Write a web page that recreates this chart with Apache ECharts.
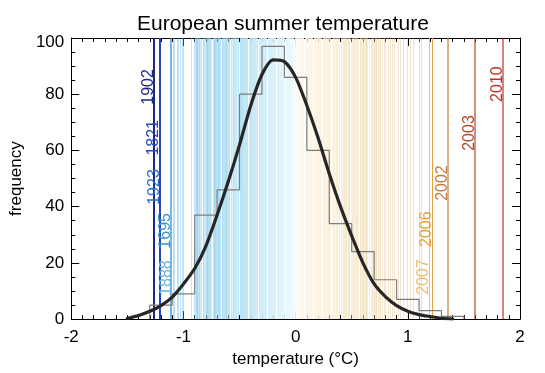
<!DOCTYPE html>
<html><head><meta charset="utf-8">
<script src="https://cdn.jsdelivr.net/npm/echarts@6/dist/echarts.min.js"></script>
<style>html,body{margin:0;padding:0;background:#fff}#c{width:545px;height:373px}</style>
</head><body><div id="c"></div>
<script>
// ---------- DATA ----------
const binEdges  = [-1.3,-1.1,-0.9,-0.7,-0.5,-0.3,-0.1,0.1,0.3,0.5,0.7,0.9,1.1,1.3,1.5];
const binCounts = [5,9,37,46,80,97,86,60,34,24,14,7,3,1];

const fitX = [-1.5,-1.4,-1.3,-1.2,-1.1,-1.0,-0.9,-0.8,-0.7,-0.6,-0.5,-0.4,-0.3,-0.2,-0.1,0.0,0.1,0.2,0.3,0.4,0.5,0.6,0.7,0.8,0.9,1.0,1.1,1.2,1.3,1.4];
const fitY = [0.3,1.3,2.8,4.8,7.8,12.5,18,26,37,49,62,76,87,92.2,91.6,86,76,64.5,51.7,40,29.6,20,12.5,8,4.8,2.8,1.6,0.9,0.3,0.1];

// individual summers, grouped by temperature (0.01 °C) -> number of years
const stripeTemps = [
 -1.09,-1.08,-1.06,-1.05,-1.03,-1.01,-1.00,-0.93,-0.91,
 -0.90,-0.89,-0.88,-0.87,-0.86,-0.85,-0.84,-0.83,-0.82,-0.81,-0.80,-0.79,-0.78,-0.77,-0.76,-0.75,-0.74,-0.73,-0.72,-0.71,
 -0.70,-0.69,-0.68,-0.67,-0.66,-0.65,-0.64,-0.63,-0.62,-0.61,-0.60,-0.59,-0.58,-0.57,-0.56,-0.55,-0.54,-0.53,-0.52,-0.51,
 -0.50,-0.49,-0.48,-0.47,-0.46,-0.45,-0.44,-0.43,-0.42,-0.41,-0.40,-0.39,-0.38,-0.37,-0.36,-0.35,-0.34,-0.33,-0.32,-0.31,
 -0.30,-0.29,-0.28,-0.27,-0.26,-0.25,-0.24,-0.23,-0.22,-0.21,-0.20,-0.19,-0.18,-0.17,-0.16,-0.15,-0.14,-0.13,-0.12,-0.11,
 -0.10,-0.09,-0.08,-0.07,-0.06,-0.05,-0.04,-0.03,-0.02,-0.01,
 0.00,0.01,0.02,0.03,0.04,0.05,0.06,0.07,0.08,0.09,
 0.10,0.11,0.12,0.13,0.14,0.15,0.16,0.17,0.18,0.19,0.20,0.21,0.22,0.23,0.24,0.25,0.26,0.27,0.28,0.29,
 0.30,0.31,0.32,0.33,0.34,0.35,0.36,0.37,0.38,0.39,0.40,0.41,0.42,0.43,0.44,0.45,0.46,0.47,0.48,0.49,
 0.50,0.51,0.52,0.53,0.54,0.55,0.56,0.57,0.58,0.59,0.60,0.61,0.62,0.63,0.64,0.65,0.67,0.68,0.69,
 0.70,0.71,0.72,0.73,0.74,0.75,0.77,0.79,0.80,0.82,0.84,0.86,0.88,
 0.91,0.93,0.96,0.99,1.02,1.05,1.10,1.12
];
const stripeCounts = [
 1,1,1,1,1,1,1,1,1,
 1,2,3,1,2,1,1,2,1,1,2,3,2,2,2,1,2,3,3,2,
 2,3,2,2,3,2,2,3,4,2,2,3,2,1,3,2,2,2,1,3,
 3,4,5,3,4,3,5,4,3,4,5,3,4,5,4,3,5,4,3,6,
 5,4,6,5,4,5,6,4,5,5,4,6,5,4,5,5,4,5,4,6,
 4,5,4,5,4,4,5,4,4,5,
 4,4,5,4,4,4,5,4,4,4,
 3,4,3,3,4,3,3,3,3,3,4,3,3,2,3,3,2,3,2,3,
 2,2,1,2,2,1,2,2,1,2,2,1,2,2,2,2,1,2,2,1,
 1,2,1,1,2,1,1,2,1,1,2,1,1,2,1,1,1,1,1,
 1,1,2,1,1,1,1,1,1,1,1,1,1,
 1,1,1,1,1,1,1,1
];

const namedYears = ['1902','1821','1923','1695','1888','2007','2006','2002','2003','2010'];
const namedTemps = [-1.26,-1.21,-1.20,-1.11,-1.10,1.19,1.22,1.36,1.60,1.85];

const xTicks = [-2,-1,0,1,2];
const yTicks = [0,20,40,60,80,100];

// ---------- STYLE ----------
const FONT = '"Liberation Sans", Arial, Helvetica, sans-serif';
const namedStyle = {
  '1902': {color:'#1d2a82', width:2,   labelY:82.6},
  '1821': {color:'#2546b4', width:2,   labelY:64.5},
  '1923': {color:'#2d6fcc', width:0,   labelY:47.0},
  '1695': {color:'#3a98cf', width:1.4, labelY:31.4},
  '1888': {color:'#66b8e2', width:0,   labelY:14.6},
  '2007': {color:'#efbe6c', width:1,   labelY:15.0},
  '2006': {color:'#e5a03e', width:1,   labelY:32.0},
  '2002': {color:'#c47c3e', width:1.2, labelY:48.4},
  '2003': {color:'#b6472e', width:1.2, labelY:66.2},
  '2010': {color:'#c22f28', width:1.2, labelY:83.6}
};
const negStops = [[0,[238,249,253]],[-0.3,[204,236,249]],[-0.6,[160,217,240]],[-0.9,[122,198,232]],[-1.1,[90,174,222]]];
const posStops = [[0,[254,250,242]],[0.3,[249,236,210]],[0.6,[236,210,160]],[0.9,[226,192,136]],[1.15,[212,168,118]]];
function interp(stops, t){
  const a = Math.abs(t);
  for (let i=0;i<stops.length-1;i++){
    const a0=Math.abs(stops[i][0]), a1=Math.abs(stops[i+1][0]);
    if (a<=a1){
      const f=(a-a0)/(a1-a0), c0=stops[i][1], c1=stops[i+1][1];
      return 'rgb('+c0.map((v,k)=>Math.round(v+(c1[k]-v)*f)).join(',')+')';
    }
  }
  const c=stops[stops.length-1][1]; return 'rgb('+c.join(',')+')';
}
function stripeColor(t){ return t<0 ? interp(negStops,t) : interp(posStops,t); }

const histData = [[binEdges[0],0]]
  .concat(binCounts.map((c,i)=>[binEdges[i],c]))
  .concat([[binEdges[binEdges.length-1],0]]);
const fitData = fitX.map((x,i)=>[x,fitY[i]]);
const stripeData = stripeTemps.map((t,i)=>[t,stripeCounts[i]]);
const namedData = namedTemps.map((t,i)=>[t, namedStyle[namedYears[i]].labelY, i]);

function vline(api, x, color, width, opacity){
  const top = api.coord([x,100]), bot = api.coord([x,0]);
  const px = Math.round(top[0]) + (width%2===1?0.5:0);
  return {type:'line', shape:{x1:px,y1:top[1],x2:px,y2:bot[1]},
          style:{stroke:color,lineWidth:width,opacity:opacity}, silent:true};
}

const axisCommonX = {
  type:'value', min:-2, max:2, interval:1,
  axisLine:{show:true,onZero:false,lineStyle:{color:'#000',width:1}},
  axisTick:{show:true,inside:true,length:8,lineStyle:{color:'#000',width:1}},
  minorTick:{show:true,splitNumber:10,length:4,lineStyle:{color:'#000',width:1}},
  splitLine:{show:false}, minorSplitLine:{show:false}
};
const axisCommonY = {
  type:'value', min:0, max:100, interval:20,
  axisLine:{show:true,onZero:false,lineStyle:{color:'#000',width:1}},
  axisTick:{show:true,inside:true,length:8,lineStyle:{color:'#000',width:1}},
  minorTick:{show:true,splitNumber:4,length:4,lineStyle:{color:'#000',width:1}},
  splitLine:{show:false}, minorSplitLine:{show:false}
};

const chart = echarts.init(document.getElementById('c'), null, {renderer:'canvas'});
chart.setOption({
  animation:false,
  backgroundColor:'#fff',
  title:{text:'European summer temperature', left:132, top:9,
         textStyle:{fontFamily:FONT,fontSize:21,fontWeight:'normal',color:'#000'}},
  grid:{left:65,right:25,top:38,bottom:48},
  xAxis:[
    Object.assign({}, axisCommonX, {position:'bottom',
      axisLabel:{show:true,color:'#000',fontSize:17,fontFamily:FONT,margin:10,
        formatter:v=>xTicks.indexOf(v)>=0?String(v):''},
      name:'temperature (°C)', nameLocation:'middle', nameGap:24,
      nameTextStyle:{color:'#000',fontSize:17,fontFamily:FONT}}),
    Object.assign({}, axisCommonX, {position:'top', axisLabel:{show:false}})
  ],
  yAxis:[
    Object.assign({}, axisCommonY, {position:'left',
      axisLabel:{show:true,color:'#000',fontSize:17,fontFamily:FONT,margin:7,
        formatter:v=>{
          if (yTicks.indexOf(v)<0) return '';
          if (v===yTicks[yTicks.length-1]) return '{hi|'+v+'}';
          return String(v);
        },
        rich:{hi:{fontSize:17,fontFamily:FONT,color:'#000',padding:[9,0,0,0]}}},
      name:'frequency', nameLocation:'middle', nameGap:41, nameRotate:90,
      nameTextStyle:{color:'#000',fontSize:17,fontFamily:FONT}}),
    Object.assign({}, axisCommonY, {position:'right', axisLabel:{show:false}})
  ],
  series:[
    {type:'custom', name:'years', xAxisIndex:0, yAxisIndex:0, z:1,
     data:stripeData, encode:{x:0,y:1}, clip:true,
     renderItem:(params,api)=>{
       const t=api.value(0), n=api.value(1);
       return vline(api, t, stripeColor(t), 1, 1-Math.pow(0.6,n));
     }},
    {type:'custom', name:'named lines', xAxisIndex:0, yAxisIndex:0, z:2,
     data:namedData, encode:{x:0,y:1},
     renderItem:(params,api)=>{
       const i=api.value(2), st=namedStyle[namedYears[i]];
       if(!st.width) return {type:'group',children:[]};
       return vline(api, api.value(0), st.color, st.width, 1);
     }},
    {type:'line', name:'histogram', data:histData, step:'end', showSymbol:false, symbol:'none', z:3,
     lineStyle:{color:'#7d7d7d',width:1.2}, silent:true},
    {type:'line', name:'fit', data:fitData, showSymbol:false, symbol:'none', smooth:0.25, z:4,
     lineStyle:{color:'#262626',width:3.2,cap:'round',join:'round'}, silent:true},
    {type:'custom', name:'labels', xAxisIndex:0, yAxisIndex:0, z:5,
     data:namedData, encode:{x:0,y:1},
     renderItem:(params,api)=>{
       const i=api.value(2), yr=namedYears[i], st=namedStyle[yr];
       const p=api.coord([api.value(0), api.value(1)]);
       return {type:'text', x:p[0]+2, y:p[1], rotation:Math.PI/2, silent:true,
         style:{text:yr, fill:st.color, fontSize:16, fontFamily:FONT, align:'center', verticalAlign:'bottom'}};
     }}
  ]
});
</script></body></html>
